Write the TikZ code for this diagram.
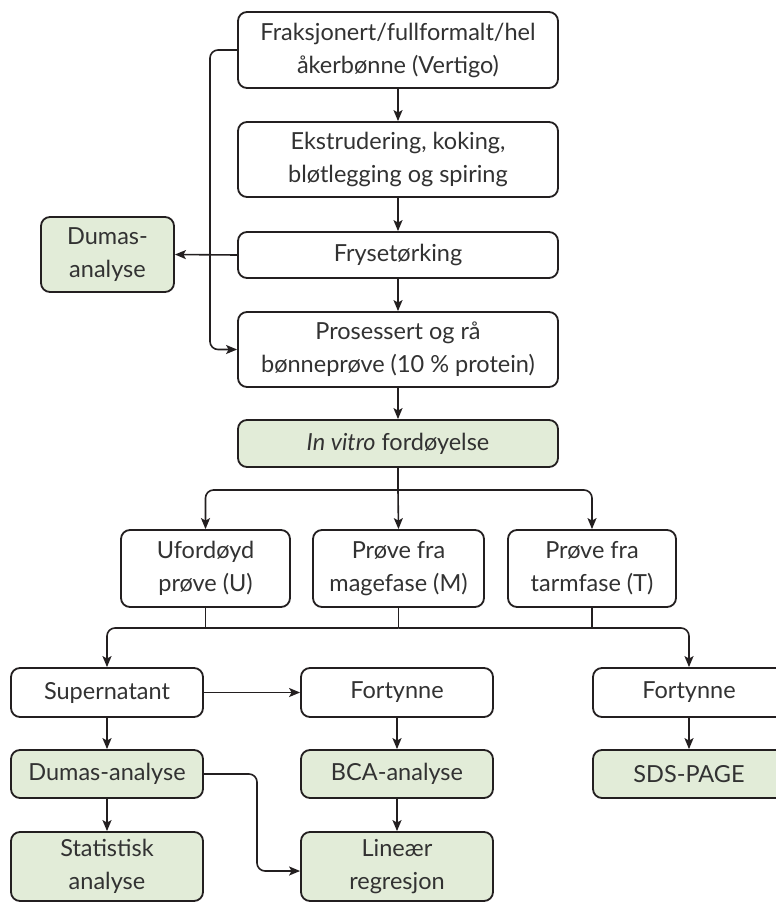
\documentclass[tikz,border=0pt]{standalone}
\usepackage{fontspec}
\setmainfont{Lato}
\usetikzlibrary{arrows.meta}
\definecolor{boxgreen}{RGB}{226,236,216}
\definecolor{ink}{RGB}{35,31,32}
\definecolor{txt}{RGB}{50,50,50}
\tikzset{
  box/.style={draw=ink, line width=1.8pt, rounded corners=9pt, fill=white, align=center,
    text=txt, font=\fontsize{23.5}{33}\selectfont, inner sep=0pt},
  gbox/.style={box, fill=boxgreen},
  arr/.style={draw=ink, line width=1.6pt, rounded corners=8pt, -{Stealth[length=11pt,width=9pt,inset=2.5pt]}},
  ln/.style={draw=ink, line width=1.6pt, rounded corners=8pt},
}
\begin{document}
\begin{tikzpicture}[x=1pt,y=-1pt]
\useasboundingbox (0,0) rectangle (776,903);
% main column
\node[box, minimum width=320pt, minimum height=76pt] (b1) at (398,50) {Fraksjonert/fullformalt/hel\\åkerbønne (Vertigo)};
\node[box, minimum width=320pt, minimum height=75pt] (b2) at (398,159.5) {Ekstrudering, koking,\\bløtlegging og spiring};
\node[box, minimum width=320pt, minimum height=46pt] (b3) at (398,255) {Frysetørking};
\node[box, minimum width=320pt, minimum height=75pt] (b4) at (398,349.5) {Prosessert og rå\\bønneprøve (10 \% protein)};
\node[gbox, minimum width=133pt, minimum height=75pt] (d1) at (107.5,254.5) {Dumas-\\analyse};
\node[gbox, minimum width=320pt, minimum height=47pt] (iv) at (398,443.5) {{\itshape In vitro} fordøyelse};
% samples
\node[box, minimum width=169pt, minimum height=77pt] (u) at (205.5,568.5) {Ufordøyd\\prøve (U)};
\node[box, minimum width=171pt, minimum height=77pt] (m) at (398.5,568.5) {Prøve fra\\magefase (M)};
\node[box, minimum width=168pt, minimum height=77pt] (t) at (592,568.5) {Prøve fra\\tarmfase (T)};
% lower rows
\node[box, minimum width=192pt, minimum height=49pt] (sup) at (107,692.5) {Supernatant};
\node[box, minimum width=192pt, minimum height=49pt] (f1) at (397,692.5) {Fortynne};
\node[box, minimum width=192pt, minimum height=49pt] (f2) at (689,692.5) {Fortynne};
\node[gbox, minimum width=192pt, minimum height=48pt] (d2) at (107,774) {Dumas-analyse};
\node[gbox, minimum width=192pt, minimum height=48pt] (bca) at (397,774) {BCA-analyse};
\node[gbox, minimum width=192pt, minimum height=48pt] (sds) at (689,774) {SDS-PAGE};
\node[gbox, minimum width=192pt, minimum height=69pt] (st) at (107,866.5) {Statistisk\\analyse};
\node[gbox, minimum width=192pt, minimum height=69pt] (lin) at (397,866.5) {Lineær\\regresjon};
% connectors top
\draw[arr] (b1) -- (b2);
\draw[arr] (b2) -- (b3);
\draw[arr] (b3) -- (b4);
\coordinate (byp) at (210,200);
\draw[arr] (b1.west) -| (byp) |- (b4.west);
\draw[arr, rounded corners=0pt] (b3.west) -- (d1.east);
\draw[arr] (b4) -- (iv);
% branch 1
\coordinate (j1) at (398,490);
\draw[ln, rounded corners=0pt] (iv.south) -- (j1);
\draw[arr] (j1) -| (u.north);
\draw[arr] (j1) -| (t.north);
\draw[arr] (j1) -- (m.north);
% branch 2
\coordinate (j2) at (398.5,628);
\draw[ln] (u.south) -- (u.south |- j2);
\draw[ln] (t.south) -- (t.south |- j2);
\draw[ln] (m.south) -- (j2);
\draw[arr] (j2) -| (sup.north);
\draw[arr] (j2) -| (f2.north);
% lower connectors
\draw[arr] (sup) -- (f1);
\draw[arr] (sup) -- (d2);
\draw[arr] (d2) -- (st);
\draw[arr] (f1) -- (bca);
\draw[arr] (bca) -- (lin);
\draw[arr] (f2) -- (sds);
\coordinate (k) at (257,871);
\draw[arr] (d2.east) -| (k) -- (k -| lin.west);
\end{tikzpicture}
\end{document}
